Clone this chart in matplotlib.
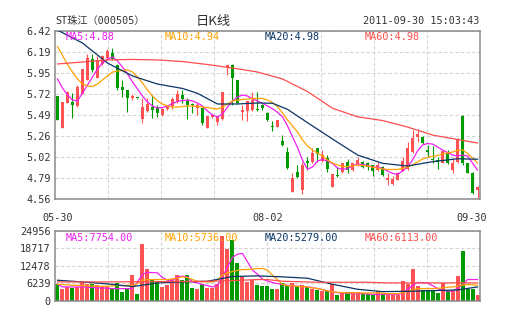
import numpy as np
import matplotlib.pyplot as plt
from matplotlib.transforms import ScaledTranslation

# ST珠江 daily K line, 2011-05-30 .. 2011-09-30
# -------------------------------------------------------------------
opens = [5.70, 5.35, 5.62, 5.63, 5.59, 5.72, 5.88, 6.11, 5.90, 6.05,
         6.12, 6.18, 6.04, 5.80, 5.77, 5.68, 5.68, 5.45, 5.53, 5.58,
         5.58, 5.49, 5.56, 5.59, 5.64, 5.71, 5.65, 5.605, 5.565, 5.565,
         5.35, 5.465, 5.415, 5.445, 6.02, 6.04, 5.88, 5.52, 5.53, 5.545,
         5.555, 5.60, 5.51, 5.365, 5.36, 5.20, 5.08, 4.64, 4.86, 4.66,
         4.985, 4.975, 5.12, 4.985, 5.01, 4.69, 4.82, 4.855, 4.975, 4.88,
         4.94, 4.975, 4.955, 4.935, 4.88, 4.91, 4.765, 4.725, 4.77, 4.875,
         4.89, 5.085, 5.245, 5.25, 5.10, 4.995, 4.99, 4.955, 5.07, 4.88,
         4.975, 5.48, 4.955, 4.85, 4.66]
highs = [5.70, 5.63, 5.755, 5.73, 5.82, 6.00, 6.17, 6.17, 6.14, 6.15,
         6.22, 6.235, 6.06, 5.88, 5.77, 5.72, 5.68, 5.675, 5.68, 5.71,
         5.60, 5.57, 5.59, 5.69, 5.77, 5.77, 5.675, 5.62, 5.62, 5.57,
         5.48, 5.50, 5.47, 5.74, 6.045, 6.05, 5.88, 5.60, 5.64, 5.75,
         5.75, 5.61, 5.52, 5.42, 5.44, 5.27, 5.14, 4.845, 4.94, 4.975,
         5.03, 5.12, 5.125, 5.10, 5.047, 4.84, 4.91, 4.96, 5.00, 4.96,
         5.03, 4.98, 4.975, 4.94, 4.975, 4.92, 4.845, 4.81, 4.855, 5.03,
         5.195, 5.325, 5.33, 5.255, 5.16, 5.145, 5.03, 5.10, 5.10, 5.01,
         5.23, 5.49, 4.96, 4.855, 4.70]
lows = [5.43, 5.35, 5.62, 5.46, 5.58, 5.72, 5.88, 5.97, 5.90, 6.04,
        6.11, 6.10, 5.77, 5.69, 5.52, 5.66, 5.67, 5.40, 5.52, 5.46,
        5.47, 5.48, 5.55, 5.56, 5.62, 5.62, 5.45, 5.51, 5.49, 5.38,
        5.35, 5.46, 5.38, 5.44, 5.93, 5.60, 5.61, 5.435, 5.42, 5.53,
        5.53, 5.55, 5.42, 5.31, 5.355, 5.15, 4.89, 4.64, 4.79, 4.61,
        4.88, 4.96, 4.975, 4.975, 4.863, 4.69, 4.805, 4.85, 4.845, 4.875,
        4.92, 4.905, 4.88, 4.81, 4.87, 4.81, 4.715, 4.715, 4.77, 4.865,
        4.885, 5.07, 5.195, 5.17, 5.03, 4.955, 4.89, 4.955, 4.95, 4.845,
        4.955, 4.94, 4.845, 4.615, 4.57]
closes = [5.44, 5.63, 5.745, 5.60, 5.80, 6.00, 6.12, 5.99, 6.10, 6.14,
          6.20, 6.11, 5.79, 5.77, 5.68, 5.70, 5.675, 5.58, 5.61, 5.55,
          5.51, 5.56, 5.58, 5.67, 5.72, 5.67, 5.60, 5.60, 5.60, 5.40,
          5.48, 5.49, 5.465, 5.74, 6.04, 5.90, 5.62, 5.545, 5.64, 5.655,
          5.54, 5.565, 5.43, 5.36, 5.43, 5.16, 4.90, 4.79, 4.80, 4.94,
          4.955, 5.07, 5.06, 5.045, 4.89, 4.84, 4.815, 4.955, 4.88, 4.955,
          4.99, 4.91, 4.91, 4.865, 4.935, 4.83, 4.79, 4.78, 4.85, 4.985,
          5.12, 5.23, 5.28, 5.175, 5.075, 4.99, 4.975, 5.095, 4.955, 4.955,
          5.22, 4.955, 4.85, 4.63, 4.69]
volumes = [6200, 4180, 5010, 4660, 5010, 6800, 5970, 5970, 5610, 5370,
           5370, 4180, 6450, 3220, 4180, 9190, 2390, 20300, 11340, 8000,
           6800, 5010, 5850, 8000, 9190, 7400, 9190, 4540, 4180, 6200,
           4660, 4660, 5970, 23160, 18500, 21730, 13610, 8600, 6800, 7640,
           5610, 5250, 5370, 4180, 4180, 6450, 5850, 6450, 4900, 5610,
           5010, 4420, 3820, 3460, 3460, 5970, 2030, 3220, 3220, 3220,
           3220, 2630, 2390, 2030, 3580, 2390, 2270, 2270, 2270, 7040,
           6200, 11580, 5250, 3820, 4060, 3460, 2870, 6450, 3460, 4060,
           8840, 17790, 4180, 4180, 2030]

# moving averages as drawn on the chart
ma5 = [5.889, 5.789, 5.711, 5.656, 5.645, 5.734, 5.822, 5.911, 6.000, 6.066,
       6.110, 6.132, 6.088, 6.021, 5.944, 5.856, 5.778, 5.700, 5.634, 5.590,
       5.567, 5.573, 5.590, 5.617, 5.640, 5.651, 5.656, 5.645, 5.623, 5.590,
       5.534, 5.490, 5.468, 5.501, 5.578, 5.645, 5.689, 5.711, 5.700, 5.670,
       5.645, 5.620, 5.590, 5.560, 5.520, 5.470, 5.370, 5.250, 5.130, 4.990,
       4.890, 4.914, 4.981, 4.997, 4.981, 4.953, 4.903, 4.887, 4.898, 4.925,
       4.947, 4.942, 4.931, 4.914, 4.914, 4.898, 4.870, 4.843, 4.832, 4.870,
       4.914, 4.992, 5.091, 5.158, 5.174, 5.169, 5.136, 5.103, 5.075, 5.047,
       5.036, 5.047, 5.036, 4.959, 4.881]
ma10 = [6.250, 6.150, 6.050, 5.966, 5.889, 5.833, 5.811, 5.806, 5.833, 5.878,
        5.922, 5.966, 5.977, 5.983, 5.988, 5.966, 5.911, 5.844, 5.767, 5.700,
        5.645, 5.612, 5.590, 5.578, 5.578, 5.584, 5.590, 5.590, 5.584, 5.578,
        5.573, 5.562, 5.556, 5.578, 5.612, 5.645, 5.656, 5.662, 5.667, 5.673,
        5.673, 5.673, 5.656, 5.628, 5.584, 5.512, 5.435, 5.368, 5.302, 5.213,
        5.147, 5.103, 5.069, 5.036, 4.992, 4.959, 4.937, 4.920, 4.920, 4.925,
        4.937, 4.931, 4.925, 4.914, 4.903, 4.892, 4.887, 4.887, 4.887, 4.898,
        4.914, 4.937, 4.970, 5.003, 5.020, 5.031, 5.042, 5.058, 5.069, 5.080,
        5.097, 5.103, 5.064, 5.014, 4.959]
ma20_idx = [0, 5, 10, 15, 20, 25, 28, 32, 36, 40, 43, 46, 50, 55, 60, 65, 70, 75, 80, 84]
ma20 = [6.43, 6.287, 6.066, 5.922, 5.833, 5.784, 5.73, 5.612, 5.612, 5.623,
        5.62, 5.553, 5.405, 5.224, 5.047, 4.955, 4.925, 4.973, 5.006, 5.0]
ma60_idx = [0, 5, 10, 15, 20, 25, 30, 35, 40, 45, 50, 55, 60, 65, 70, 75, 80, 84]
ma60 = [6.055, 6.077, 6.10, 6.105, 6.10, 6.082, 6.049, 6.01, 5.966, 5.889,
        5.75, 5.565, 5.47, 5.429, 5.357, 5.268, 5.219, 5.18]

vma5 = [5970, 5010, 5010, 5010, 5010, 5010, 4900, 4780, 4660, 4660,
        4540, 4420, 4420, 4420, 4420, 4420, 6800, 9550, 10150, 10150,
        10030, 8360, 7400, 7400, 8600, 8840, 8600, 6800, 6450, 5850,
        5490, 5010, 5610, 8600, 12180, 15520, 16720, 16950, 13970, 10980,
        9550, 7760, 7160, 6570, 6200, 5850, 5610, 5370, 5250, 5250,
        5010, 4780, 4420, 4060, 3580, 3220, 2990, 2870, 2750, 2630,
        2630, 2630, 2510, 2390, 2390, 2390, 2390, 2390, 2390, 2630,
        4060, 5610, 6570, 6570, 6450, 5490, 4420, 3820, 3580, 3580,
        4420, 5850, 7640, 7640, 7640]
vma10 = [5970, 5850, 5730, 5610, 5610, 5490, 5370, 5370, 5250, 5250,
         5250, 5370, 5490, 5490, 5610, 5610, 6200, 7400, 7640, 7640,
         7640, 7640, 7640, 7880, 8240, 8600, 8360, 7640, 7040, 6800,
         6800, 6800, 7640, 9190, 10030, 10510, 10870, 11220, 11220, 11340,
         11580, 11580, 10980, 9190, 7640, 5850, 5490, 5370, 5250, 5130,
         5010, 4660, 4420, 4060, 3580, 3220, 3100, 2990, 2870, 2870,
         2870, 2870, 2870, 2870, 2870, 2750, 2630, 2630, 2630, 2870,
         3340, 3820, 4420, 4420, 4420, 4420, 4540, 4660, 4900, 5010,
         5250, 5730, 5850, 5730, 5610]
vma20_idx = [0, 5, 10, 15, 20, 25, 30, 35, 40, 45, 50, 55, 60, 65, 70, 75, 80, 84]
vma20 = [7400, 6800, 6090, 5130, 6450, 6800, 7040, 8720, 8960, 8600,
         8120, 5970, 4180, 3340, 3460, 3700, 3940, 5010]
vma60_idx = [0, 10, 20, 30, 35, 40, 42, 45, 52, 58, 62, 66, 84]
vma60 = [6800, 6800, 6900, 7000, 7280, 7640, 7640, 7040, 6690, 6690, 6690, 6450, 6450]

price_ticks = [4.56, 4.79, 5.02, 5.26, 5.49, 5.72, 5.95, 6.19, 6.42]
vol_ticks = [0, 6239, 12478, 18717, 24956]
date_labels = ["05-30", "08-02", "09-30"]
date_pos = [0, 42, 84]

RED = "#ff5252"
GREEN = "#009a00"
C5, C10, C20, C60 = "#f020f0", "#ffa200", "#0a3566", "#ff4c4c"
GRID = "#d4d4d4"
FRAME = "#8a8a8a"

plt.rcParams['font.family'] = ['DejaVu Sans Mono']

fig = plt.figure(figsize=(5.05, 3.30), dpi=100)
ax = fig.add_axes([0.1089, 0.397, 0.8416, 0.509])
axv = fig.add_axes([0.1089, 0.0879, 0.8416, 0.2121])

o = np.array(opens); c = np.array(closes)
x = np.arange(len(c))
cols = np.where(c >= o, RED, GREEN)

# candles
ax.vlines(x, lows, highs, colors=cols, lw=0.8, zorder=2)
body = np.maximum(np.abs(c - o), 0.01)
ax.bar(x, body, bottom=np.minimum(o, c), width=0.72, color=cols, lw=0, zorder=2)

ax.plot(x, ma5, color=C5, lw=0.9, zorder=3)
ax.plot(x, ma10, color=C10, lw=0.9, zorder=3)
ax.plot(ma20_idx, ma20, color=C20, lw=0.9, zorder=3)
ax.plot(ma60_idx, ma60, color=C60, lw=0.9, zorder=3)

# volume
axv.bar(x, volumes, width=0.8, color=cols, lw=0, zorder=2)
axv.plot(x, vma5, color=C5, lw=0.9, zorder=3)
axv.plot(x, vma10, color=C10, lw=0.9, zorder=3)
axv.plot(vma20_idx, vma20, color=C20, lw=0.9, zorder=3)
axv.plot(vma60_idx, vma60, color=C60, lw=0.9, zorder=3)

xlim = (-0.5, len(c) - 0.5)
vgrid = np.linspace(xlim[0], xlim[1], 9)[1:-1]
for a in (ax, axv):
    a.set_xlim(*xlim)
    a.set_xticks(vgrid, minor=True)
    a.grid(True, which='minor', axis='x', color=GRID, ls=(0, (3, 2)), lw=0.8)
    a.grid(True, which='major', axis='y', color=GRID, ls=(0, (3, 2)), lw=0.8)
    a.set_axisbelow(True)
    for s in a.spines.values():
        s.set_color(FRAME)
        s.set_linewidth(1.1)
    a.tick_params(which='both', length=0, labelsize=7.3, labelcolor="#333333", pad=3)

ax.set_ylim(price_ticks[0], price_ticks[-1])
ax.set_yticks(price_ticks)
ax.set_yticklabels(["%.2f" % v for v in price_ticks])
ax.set_xticks(date_pos)
ax.set_xticklabels(date_labels)
ax.tick_params(axis='x', pad=10)
lab = ax.get_xticklabels()[-1]
lab.set_transform(lab.get_transform() + ScaledTranslation(-6 / 100, 0, fig.dpi_scale_trans))

axv.set_ylim(vol_ticks[0], vol_ticks[-1])
axv.set_yticks(vol_ticks)
axv.set_yticklabels([str(v) for v in vol_ticks])
axv.set_xticks([])

# legend texts
ma_x = [0.024, 0.259, 0.494, 0.729]
ma_txt = ["MA5:4.88", "MA10:4.94", "MA20:4.98", "MA60:4.98"]
vma_txt = ["MA5:7754.00", "MA10:5736.00", "MA20:5279.00", "MA60:6113.00"]
for xx, t1, t2, cc in zip(ma_x, ma_txt, vma_txt, [C5, C10, C20, C60]):
    ax.text(xx, 0.965, t1, transform=ax.transAxes, color=cc, fontsize=7.3, va='center', zorder=5)
    axv.text(xx, 0.905, t2, transform=axv.transAxes, color=cc, fontsize=7.3, va='center', zorder=5)

# header
fig.text(0.1089, 0.936, "ST珠江（000505）", family=['DejaVu Sans Mono', 'Noto Sans CJK SC'],
         fontsize=7.3, color="#333333", va='center')
fig.text(0.422, 0.936, "日K线", family=['Noto Sans CJK SC'], fontsize=9.5,
         color="#333333", va='center', ha='center')
fig.text(0.949, 0.936, "2011-09-30 15:03:43", fontsize=7.3, color="#333333",
         va='center', ha='right')

fig.savefig("out.png", dpi=100, facecolor="white")
